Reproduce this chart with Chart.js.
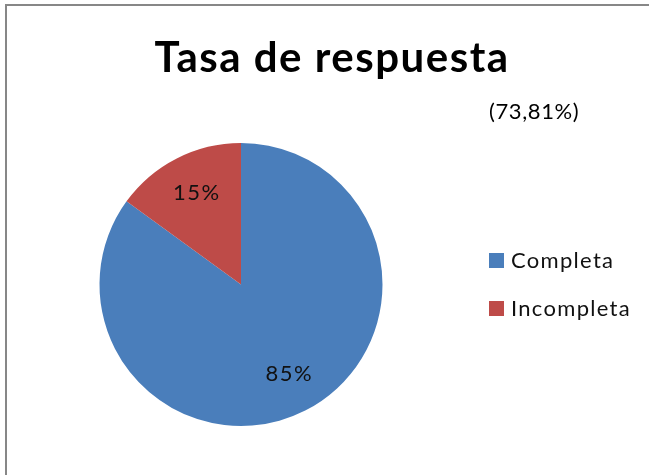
<!DOCTYPE html>
<html>
<head>
<meta charset="utf-8">
<script src="https://cdn.jsdelivr.net/npm/chart.js@4"></script>
<style>
  html, body { margin: 0; padding: 0; background: #fff; }
  #wrap { position: absolute; left: 0; top: 0; width: 649px; height: 475px; }
  #frame { position: absolute; left: 5px; top: 4px; width: 644px; height: 471px;
           border-top: 2px solid #878787; border-left: 2px solid #878787; box-sizing: border-box; }
  canvas { position: absolute; left: 0; top: 0; }
</style>
</head>
<body>
<div id="wrap">
  <div id="frame"></div>
  <canvas id="c" width="649" height="475"></canvas>
</div>
<script>
const titleText = "Tasa de respuesta";
const subtitleText = "(73,81%)";
const categories = ["Completa", "Incompleta"];
const values = [85, 15];
const colors = ["#4A7EBB", "#BE4B48"];

const FONT = "Lato, 'Open Sans', sans-serif";

const decorPlugin = {
  id: 'decor',
  afterDraw(chart) {
    const ctx = chart.ctx;
    ctx.save();
    // title
    ctx.fillStyle = '#000';
    ctx.font = "bold 42px " + FONT;
    ctx.letterSpacing = '1.5px';
    ctx.textAlign = 'center';
    ctx.textBaseline = 'alphabetic';
    ctx.fillText(titleText, 332, 72);
    // subtitle
    ctx.font = "22px " + FONT;
    ctx.letterSpacing = '0.6px';
    ctx.textAlign = 'left';
    ctx.fillText(subtitleText, 489, 119);
    // data labels
    const meta = chart.getDatasetMeta(0);
    const total = values.reduce((a, b) => a + b, 0);
    ctx.font = "22px " + FONT;
    ctx.letterSpacing = '1.5px';
    ctx.textAlign = 'center';
    ctx.textBaseline = 'middle';
    ctx.fillStyle = '#111';
    meta.data.forEach((arc, i) => {
      const p = arc.getProps(['x', 'y', 'startAngle', 'endAngle', 'outerRadius'], true);
      const mid = (p.startAngle + p.endAngle) / 2;
      const r = p.outerRadius * 0.72;
      const pct = Math.round(values[i] / total * 100) + '%';
      ctx.fillText(pct, p.x + Math.cos(mid) * r + 2, p.y + Math.sin(mid) * r - 1);
    });
    // legend
    ctx.textAlign = 'left';
    ctx.textBaseline = 'alphabetic';
    ctx.font = "22px " + FONT;
    ctx.letterSpacing = '1.3px';
    categories.forEach((name, i) => {
      const baseY = 268 + i * 48;
      ctx.fillStyle = colors[i];
      ctx.fillRect(489, baseY - 15, 15, 15);
      ctx.fillStyle = '#111';
      ctx.fillText(name, 511, baseY);
    });
    ctx.restore();
  }
};

new Chart(document.getElementById('c'), {
  type: 'pie',
  data: {
    labels: categories,
    datasets: [{
      data: values,
      backgroundColor: colors,
      borderWidth: 0
    }]
  },
  options: {
    responsive: false,
    animation: false,
    layout: { padding: { left: 99, right: 266, top: 143, bottom: 49 } },
    plugins: {
      legend: { display: false },
      title: { display: false },
      tooltip: { enabled: false }
    }
  },
  plugins: [decorPlugin]
});
</script>
</body>
</html>
